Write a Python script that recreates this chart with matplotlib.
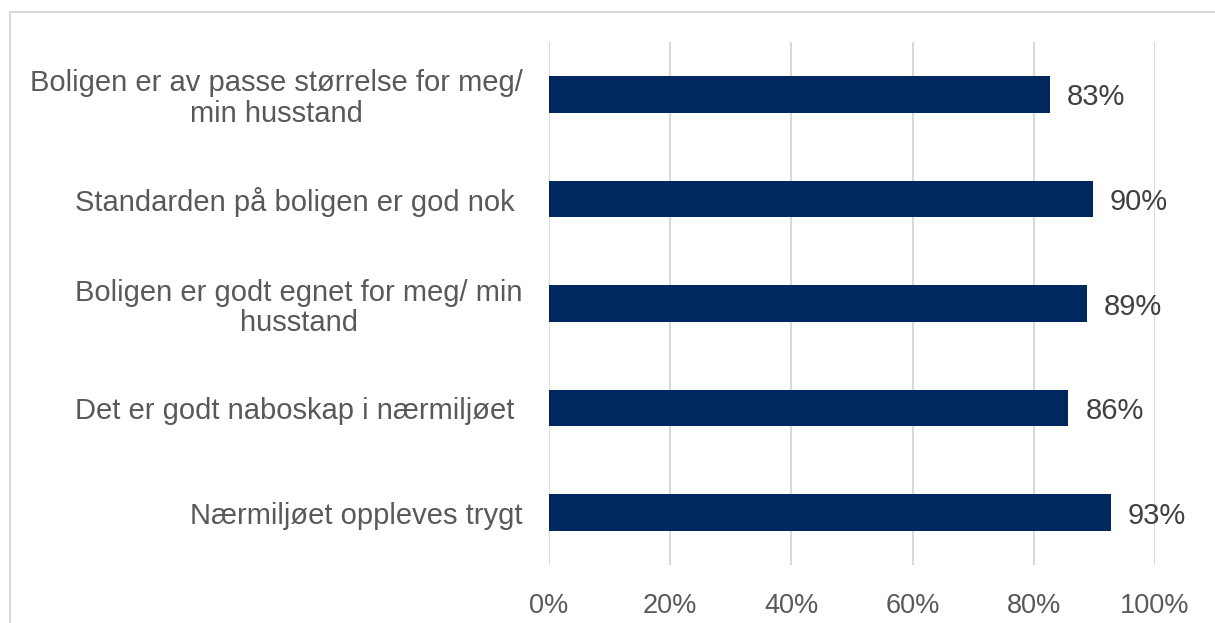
import matplotlib.pyplot as plt
from matplotlib.patches import Rectangle
import numpy as np

categories = [
    "Boligen er av passe størrelse for meg/\nmin husstand",
    "Standarden på boligen er god nok ",
    "Boligen er godt egnet for meg/ min\nhusstand",
    "Det er godt naboskap i nærmiljøet ",
    "Nærmiljøet oppleves trygt",
]
values = [0.827, 0.897, 0.887, 0.857, 0.927]
xticks = [0, 0.2, 0.4, 0.6, 0.8, 1.0]
xtick_labels = ["0%", "20%", "40%", "60%", "80%", "100%"]

plt.rcParams['font.family'] = ['Liberation Sans', 'DejaVu Sans']

fig = plt.figure(figsize=(12.15, 6.23), dpi=100)
ax = fig.add_axes([549 / 1215, 1 - 565 / 623, 606 / 1215, 523 / 623])

# light frame around the chart area (only top/left visible)
fig.patches.append(Rectangle((10 / 1215, -0.1), 1.2, 1 - 12 / 623 + 0.1,
                             transform=fig.transFigure, fill=False,
                             edgecolor='#D9D9D9', linewidth=1.5))

y = np.arange(len(categories))
ax.barh(y, values, height=0.35, color='#00285E', zorder=3)

for yi, v in zip(y, values):
    ax.text(v + 0.028, yi, f"{v:.0%}", va='center_baseline', ha='left',
            fontsize=21, color='#404040')

ax.set_xlim(0, 1)
ax.set_ylim(len(categories) - 0.5, -0.5)
ax.set_xticks(xticks)
ax.set_xticklabels(xtick_labels, fontsize=19.5, color='#595959')
ax.set_yticks(y)
ax.set_yticklabels(categories, fontsize=21, color='#595959',
                   multialignment='center', linespacing=1.1)
ax.tick_params(axis='both', length=0)
ax.tick_params(axis='x', pad=20)
ax.tick_params(axis='y', pad=19)
ax.xaxis.grid(True, color='#D9D9D9', linewidth=1.5, zorder=0)
ax.set_axisbelow(True)
for s in ax.spines.values():
    s.set_visible(False)

fig.savefig('out.png', dpi=100)
